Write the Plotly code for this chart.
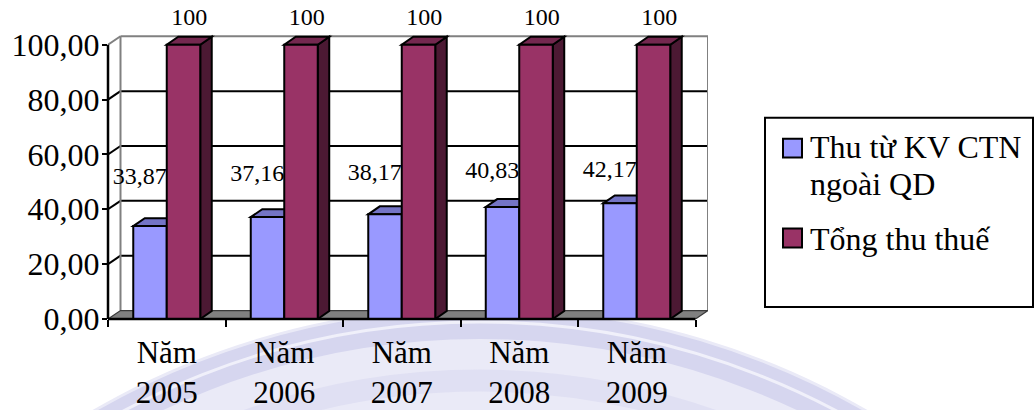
import plotly.graph_objects as go

# ---- data ----
years = ["2005", "2006", "2007", "2008", "2009"]
thu_ctn = [33.87, 37.16, 38.17, 40.83, 42.17]      # Thu từ KV CTN ngoài QD
tong_thu = [100, 100, 100, 100, 100]                # Tổng thu thuế
series_names = ["Thu từ KV CTN ngoài QD", "Tổng thu thuế"]
legend_lines = [["Thu từ KV CTN", "ngoài QD"], ["Tổng thu thuế"]]
y_ticks = [0, 20, 40, 60, 80, 100]
cat_labels = ["Năm<br>" + y for y in years]

# ---- geometry ----
W, H = 1034, 410
ML, MR, MT, MB = 108, 326, 0, 89
PW = W - ML - MR
PH = H - MT - MB
CAT_PX = 117.5          # pixels per category
UNIT_PX = 2.76          # pixels per value unit

x_lo = -0.5
x_hi = x_lo + PW / CAT_PX
y_hi = PH / UNIT_PX
n = len(years)
xs = list(range(n))


def dxu(px):
    return px / CAT_PX


def dyu(px):
    return px / UNIT_PX


WALL_DX, WALL_DY = dxu(12.5), dyu(8.5)
BAR_DX, BAR_DY = dxu(11.5), dyu(8)
BAR_W = 0.285

BLUE, BLUE_TOP = "#9999FF", "#7474C6"
RED, RED_TOP, RED_SIDE = "#993366", "#74284F", "#4C1933"
GRAY = "#808080"
FONT = "'Liberation Serif', 'Times New Roman', serif"


def px2paper_x(px):
    return (px - ML) / PW


def px2paper_y(py):
    return (MT + PH - py) / PH


def dx2paper(x):
    return (x - x_lo) / (x_hi - x_lo)


def dy2paper(y):
    return y / y_hi


def poly(pts, fill, color, width, layer="below"):
    path = "M " + " L ".join(f"{x:.4f},{y:.4f}" for x, y in pts) + " Z"
    return dict(type="path", path=path, xref="x", yref="y", fillcolor=fill,
                line=dict(color=color, width=width), layer=layer)


def seg(x0, y0, x1, y1, color, width, layer="below"):
    return dict(type="line", x0=x0, y0=y0, x1=x1, y1=y1, xref="x", yref="y",
                line=dict(color=color, width=width), layer=layer)


def paper_circle(cx, cy, r, fill, color, width):
    return dict(type="circle", xref="paper", yref="paper",
                x0=px2paper_x(cx - r), x1=px2paper_x(cx + r),
                y0=px2paper_y(cy + r), y1=px2paper_y(cy - r),
                fillcolor=fill, line=dict(color=color, width=width), layer="below")


shapes = []

# faint round logo behind the lower part of the page
cx, cy, R = 480, 1078, 770
shapes.append(paper_circle(cx, cy, R, "rgb(234,234,247)", "rgba(0,0,0,0)", 0))
shapes.append(paper_circle(cx, cy, R - 18, "rgba(0,0,0,0)", "rgb(214,214,239)", 30))
shapes.append(paper_circle(cx, cy, R - 16, "rgba(0,0,0,0)", "rgb(240,240,250)", 3))
shapes.append(paper_circle(cx, cy, R - 75, "rgba(0,0,0,0)", "rgb(224,224,243)", 22))

# back wall
xb0, xb1 = x_lo + WALL_DX, n - 0.5 + WALL_DX
shapes.append(poly([(xb0, WALL_DY), (xb0, 100 + WALL_DY), (xb1, 100 + WALL_DY), (xb1, WALL_DY)],
                   "white", "rgba(0,0,0,0)", 0))
# left wall
shapes.append(poly([(x_lo, 0), (x_lo, 100), (xb0, 100 + WALL_DY), (xb0, WALL_DY)],
                   "white", "rgba(0,0,0,0)", 0))
# gridlines on back wall and left wall
for v in y_ticks[1:-1]:
    shapes.append(seg(xb0, v + WALL_DY, xb1, v + WALL_DY, "black", 2))
    shapes.append(seg(x_lo, v, xb0, v + WALL_DY, "black", 2))
# wall edges
shapes.append(seg(xb0, 100 + WALL_DY, xb1, 100 + WALL_DY, GRAY, 2))
shapes.append(seg(x_lo, 100, xb0, 100 + WALL_DY, GRAY, 2))
shapes.append(seg(xb0, WALL_DY, xb0, 100 + WALL_DY, GRAY, 2))
shapes.append(seg(xb1, WALL_DY, xb1, 100 + WALL_DY, GRAY, 2))
# floor
shapes.append(poly([(x_lo, 0), (n - 0.5, 0), (xb1, WALL_DY), (xb0, WALL_DY)],
                   GRAY, "#3a3a3a", 1.2))

# top and side faces of the bars
for i in xs:
    v = thu_ctn[i]
    x0, x1 = i - BAR_W, i
    shapes.append(poly([(x0, v), (x1, v), (x1 + BAR_DX, v + BAR_DY), (x0 + BAR_DX, v + BAR_DY)],
                       BLUE_TOP, "black", 2))
    v = tong_thu[i]
    x0, x1 = i, i + BAR_W
    shapes.append(poly([(x1, 0), (x1, v), (x1 + BAR_DX, v + BAR_DY), (x1 + BAR_DX, BAR_DY)],
                       RED_SIDE, "black", 2))
    shapes.append(poly([(x0, v), (x1, v), (x1 + BAR_DX, v + BAR_DY), (x0 + BAR_DX, v + BAR_DY)],
                       RED_TOP, "black", 2))

# front axis lines
shapes.append(dict(type="line", xref="paper", yref="paper",
                   x0=0, x1=0, y0=0, y1=dy2paper(100),
                   line=dict(color="black", width=2.5), layer="above"))
shapes.append(dict(type="line", xref="paper", yref="paper",
                   x0=0, x1=dx2paper(n - 0.5), y0=0, y1=0,
                   line=dict(color="black", width=2.5), layer="above"))

# legend box and swatches
lx0, lx1, ly0, ly1 = 765, 1033, 118.5, 309
shapes.append(dict(type="rect", xref="paper", yref="paper",
                   x0=px2paper_x(lx0), x1=px2paper_x(lx1),
                   y0=px2paper_y(ly1), y1=px2paper_y(ly0),
                   fillcolor="white", line=dict(color="black", width=2), layer="above"))
swatch_top = [139.5, 230]
for top, col in zip(swatch_top, [BLUE, RED]):
    shapes.append(dict(type="rect", xref="paper", yref="paper",
                       x0=px2paper_x(783), x1=px2paper_x(802),
                       y0=px2paper_y(top + 19), y1=px2paper_y(top),
                       fillcolor=col, line=dict(color="black", width=2), layer="above"))

annotations = []
legend_line_centers = [[148, 185], [240]]
for lines, centers in zip(legend_lines, legend_line_centers):
    for txt, yc in zip(lines, centers):
        annotations.append(dict(text=txt, xref="paper", yref="paper",
                                x=px2paper_x(808), y=px2paper_y(yc),
                                xanchor="left", yanchor="middle", showarrow=False,
                                font=dict(family=FONT, size=32, color="black")))

fig = go.Figure()

# front faces of the bars
fig.add_trace(go.Bar(x=xs, y=thu_ctn, name=series_names[0], width=BAR_W, offset=-BAR_W,
                     marker=dict(color=BLUE, line=dict(color="black", width=2)),
                     showlegend=False))
fig.add_trace(go.Bar(x=xs, y=tong_thu, name=series_names[1], width=BAR_W, offset=0,
                     marker=dict(color=RED, line=dict(color="black", width=2)),
                     showlegend=False))

# value labels
fig.add_trace(go.Scatter(x=[i - 0.23 for i in xs], y=[40 + v / 3 for v in thu_ctn],
                         customdata=thu_ctn, mode="text", texttemplate="%{customdata:.2f}",
                         textposition="middle center", showlegend=False, hoverinfo="skip",
                         textfont=dict(family=FONT, size=24, color="black")))
fig.add_trace(go.Scatter(x=[i + BAR_W / 2 + BAR_DX / 2 for i in xs],
                         y=[v + BAR_DY + dyu(18) for v in tong_thu],
                         customdata=tong_thu, mode="text", texttemplate="%{customdata}",
                         textposition="middle center", showlegend=False, hoverinfo="skip",
                         textfont=dict(family=FONT, size=24, color="black")))

fig.update_layout(
    width=W, height=H,
    margin=dict(l=ML, r=MR, t=MT, b=MB, pad=0),
    paper_bgcolor="white", plot_bgcolor="rgba(0,0,0,0)",
    barmode="overlay",
    separators=",.",
    showlegend=False,
    shapes=shapes,
    annotations=annotations,
    font=dict(family=FONT, color="black"),
)
fig.update_xaxes(range=[x_lo, x_hi], tickmode="array", tickvals=xs, ticktext=cat_labels,
                 ticks="", showgrid=False, zeroline=False, showline=False,
                 ticklabelstandoff=12,
                 tickfont=dict(family=FONT, size=31, color="black"),
                 minor=dict(tickmode="array", tickvals=[i - 0.5 for i in range(n + 1)],
                            ticks="outside", ticklen=7, tickwidth=2, tickcolor="black",
                            showgrid=False))
fig.update_yaxes(range=[0, y_hi], tickmode="array", tickvals=y_ticks, tickformat=".2f",
                 ticks="outside", ticklen=5, tickwidth=2, tickcolor="black",
                 ticklabelstandoff=-4,
                 showgrid=False, zeroline=False, showline=False,
                 tickfont=dict(family=FONT, size=32, color="black"))

fig.write_html("out.html")
